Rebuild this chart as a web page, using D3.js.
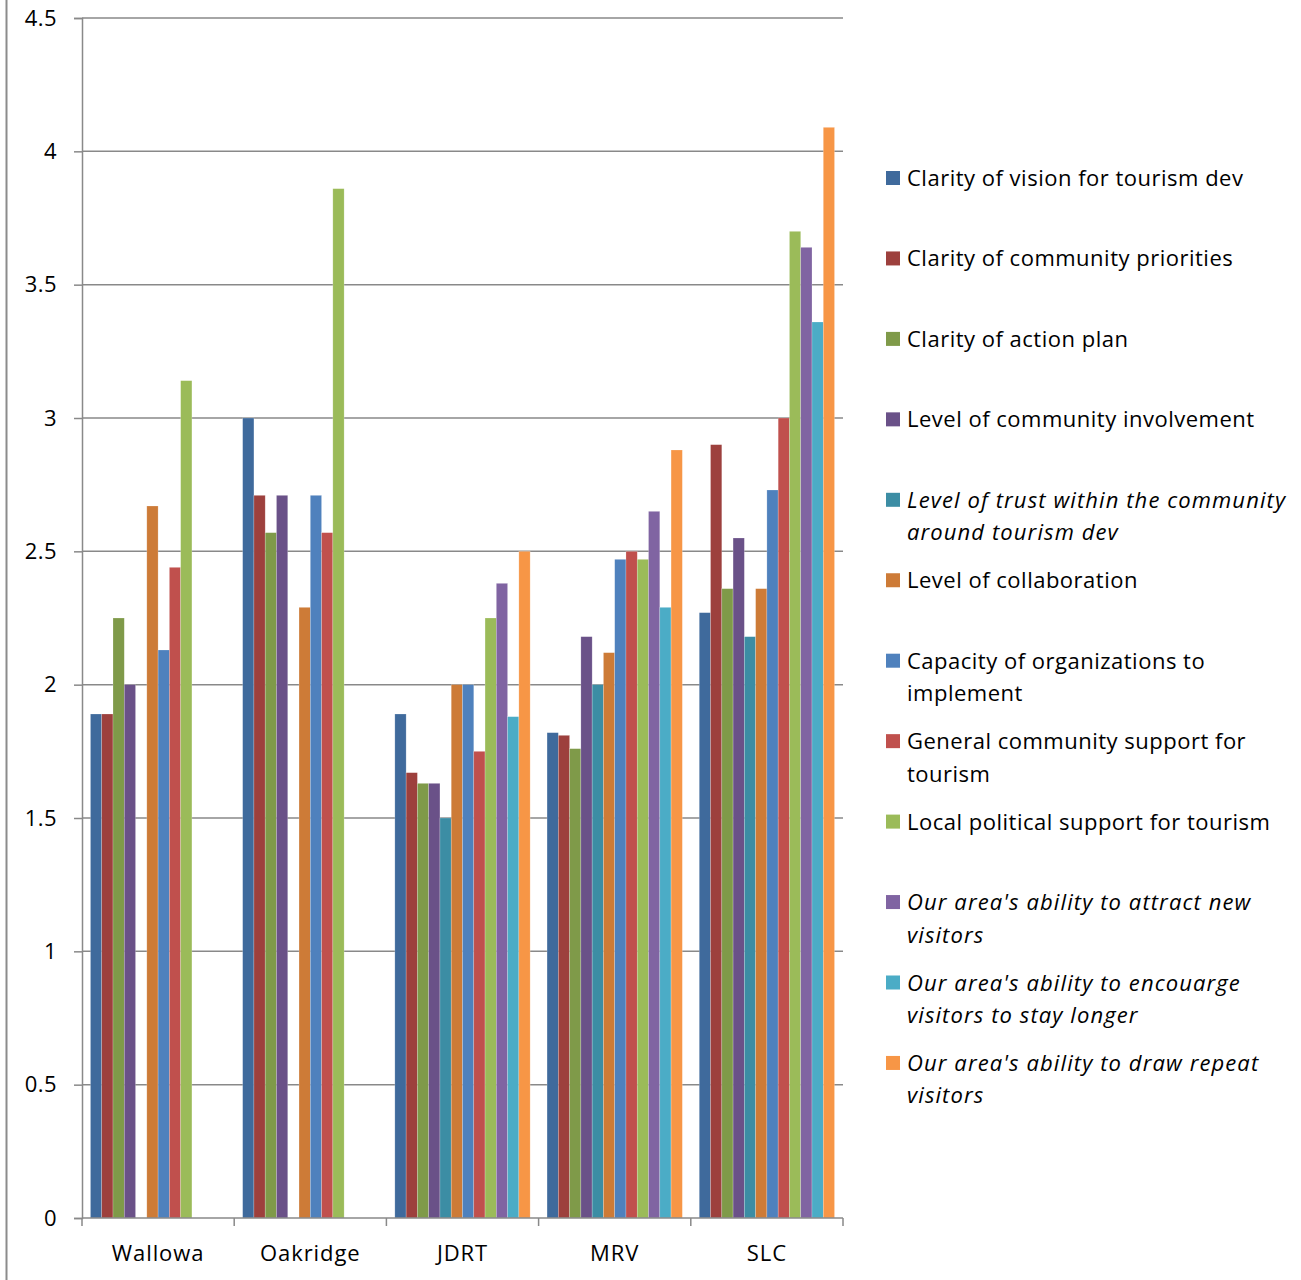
<!DOCTYPE html>
<html>
<head>
<meta charset="utf-8">
<script src="https://cdn.jsdelivr.net/npm/d3@7"></script>
<style>
  html, body { margin: 0; padding: 0; background: #fff; }
  svg { display: block; }
  text { font-family: "Open Sans", "Noto Sans", sans-serif; fill: #000; }
</style>
</head>
<body>
<div id="chart"></div>
<script>
// Community tourism readiness ratings by site
const categories = ["Wallowa", "Oakridge", "JDRT", "MRV", "SLC"];

const seriesNames = [
  "Clarity of vision for tourism dev",
  "Clarity of community priorities",
  "Clarity of action plan",
  "Level of community involvement",
  "Level of trust within the community around tourism dev",
  "Level of collaboration",
  "Capacity of organizations to implement",
  "General community support for tourism",
  "Local political support for tourism",
  "Our area's ability to attract new visitors",
  "Our area's ability to encouarge visitors to stay longer",
  "Our area's ability to draw repeat visitors"
];

// Legend text, already wrapped into lines
const legendLines = [
  ["Clarity of vision for tourism dev"],
  ["Clarity of community priorities"],
  ["Clarity of action plan"],
  ["Level of community involvement"],
  ["Level of trust within the community", "around tourism dev"],
  ["Level of collaboration"],
  ["Capacity of organizations to", "implement"],
  ["General community support for", "tourism"],
  ["Local political support for tourism"],
  ["Our area's ability to attract new", "visitors"],
  ["Our area's ability to encouarge", "visitors to stay longer"],
  ["Our area's ability to draw repeat", "visitors"]
];
const legendItalic = [false, false, false, false, true, false, false, false, false, true, true, true];

// One array per site, in series order (null = no response)
const wallowa  = [1.89, 1.89, 2.25, 2.00, null, 2.67, 2.13, 2.44, 3.14, null, null, null];
const oakridge = [3.00, 2.71, 2.57, 2.71, null, 2.29, 2.71, 2.57, 3.86, null, null, null];
const jdrt     = [1.89, 1.67, 1.63, 1.63, 1.50, 2.00, 2.00, 1.75, 2.25, 2.38, 1.88, 2.50];
const mrv      = [1.82, 1.81, 1.76, 2.18, 2.00, 2.12, 2.47, 2.50, 2.47, 2.65, 2.29, 2.88];
const slc      = [2.27, 2.90, 2.36, 2.55, 2.18, 2.36, 2.73, 3.00, 3.70, 3.64, 3.36, 4.09];
const siteValues = [wallowa, oakridge, jdrt, mrv, slc];

const colors = [
  "#3F6A9C", "#9D403D", "#7F9A49", "#6A5188", "#3C8DA4", "#CD7B37",
  "#4F81BD", "#C0504D", "#9BBB59", "#8064A2", "#4BACC6", "#F79646"
];

const yTicks = [0, 0.5, 1, 1.5, 2, 2.5, 3, 3.5, 4, 4.5];
const yTickLabels = ["0", "0.5", "1", "1.5", "2", "2.5", "3", "3.5", "4", "4.5"];

const W = 1301, H = 1280;
const plot = { left: 82, right: 843, top: 18, bottom: 1218 };
const axisColor = "#898989";

const svg = d3.select("#chart").append("svg")
  .attr("width", W).attr("height", H);

// Outer frame edge on the left
svg.append("line")
  .attr("x1", 6.5).attr("x2", 6.5).attr("y1", 0).attr("y2", H)
  .attr("stroke", "#8c8c8c").attr("stroke-width", 2);

const x0 = d3.scaleBand().domain(categories)
  .range([plot.left, plot.right]).paddingInner(0).paddingOuter(0);
const x1 = d3.scaleBand().domain(d3.range(seriesNames.length))
  .range([0, x0.bandwidth()]).paddingInner(0).paddingOuter(0.75);
const y = d3.scaleLinear().domain([0, 4.5]).range([plot.bottom, plot.top]);

// Horizontal gridlines
svg.append("g").selectAll("line").data(yTicks.filter(d => d > 0)).join("line")
  .attr("x1", plot.left).attr("x2", plot.right)
  .attr("y1", d => y(d)).attr("y2", d => y(d))
  .attr("stroke", axisColor).attr("stroke-width", 1.5);

// Bars
const groups = svg.append("g").selectAll("g").data(categories).join("g")
  .attr("transform", d => `translate(${x0(d)},0)`);

groups.selectAll("rect")
  .data((d, i) => siteValues[i].map((v, s) => ({ s, v })).filter(o => o.v != null))
  .join("rect")
  .attr("x", d => x1(d.s))
  .attr("width", x1.bandwidth())
  .attr("y", d => y(d.v))
  .attr("height", d => y(0) - y(d.v))
  .attr("fill", d => colors[d.s])
  .attr("stroke", "rgba(255,255,255,0.35)")
  .attr("stroke-width", 0.6);

// Y axis
const yAxis = d3.axisLeft(y).tickValues(yTicks)
  .tickFormat((d, i) => yTickLabels[i]).tickSize(8).tickPadding(17);
const gy = svg.append("g").attr("transform", `translate(${plot.left},0)`).call(yAxis);
gy.select(".domain").attr("stroke", axisColor).attr("stroke-width", 1.5);
gy.selectAll(".tick line").attr("stroke", axisColor).attr("stroke-width", 1.5);
gy.selectAll(".tick text")
  .style("font-family", '"Open Sans", sans-serif')
  .style("font-size", "22px").style("letter-spacing", "0.4px").attr("fill", "#000");

// X axis: ticks at category boundaries
const boundaries = categories.map(c => x0(c)).concat([plot.right]);
svg.append("line")
  .attr("x1", plot.left).attr("x2", plot.right)
  .attr("y1", plot.bottom).attr("y2", plot.bottom)
  .attr("stroke", axisColor).attr("stroke-width", 1.5);
svg.append("g").selectAll("line").data(boundaries).join("line")
  .attr("x1", d => d).attr("x2", d => d)
  .attr("y1", plot.bottom).attr("y2", plot.bottom + 8)
  .attr("stroke", axisColor).attr("stroke-width", 1.5);
svg.append("g").selectAll("text").data(categories).join("text")
  .attr("x", d => x0(d) + x0.bandwidth() / 2)
  .attr("y", plot.bottom + 43)
  .attr("text-anchor", "middle")
  .style("font-size", "22px")
  .style("letter-spacing", "0.9px")
  .text(d => d);

// Legend
const legendTop = 178, legendStep = 80.45, lineH = 32.5;
const leg = svg.append("g").selectAll("g").data(seriesNames).join("g")
  .attr("transform", (d, i) => `translate(886,${legendTop + i * legendStep})`);
leg.append("rect")
  .attr("x", 0).attr("y", -7).attr("width", 14).attr("height", 14)
  .attr("fill", (d, i) => colors[i]);
leg.each(function(d, i) {
  const t = d3.select(this).append("text")
    .attr("x", 21).attr("y", 8)
    .style("font-size", "22px")
    .style("letter-spacing", legendItalic[i] ? "1.1px" : "0.5px")
    .style("font-style", legendItalic[i] ? "italic" : "normal");
  legendLines[i].forEach((ln, k) => {
    t.append("tspan").attr("x", 21).attr("y", 8 + k * lineH).text(ln);
  });
});
</script>
</body>
</html>
